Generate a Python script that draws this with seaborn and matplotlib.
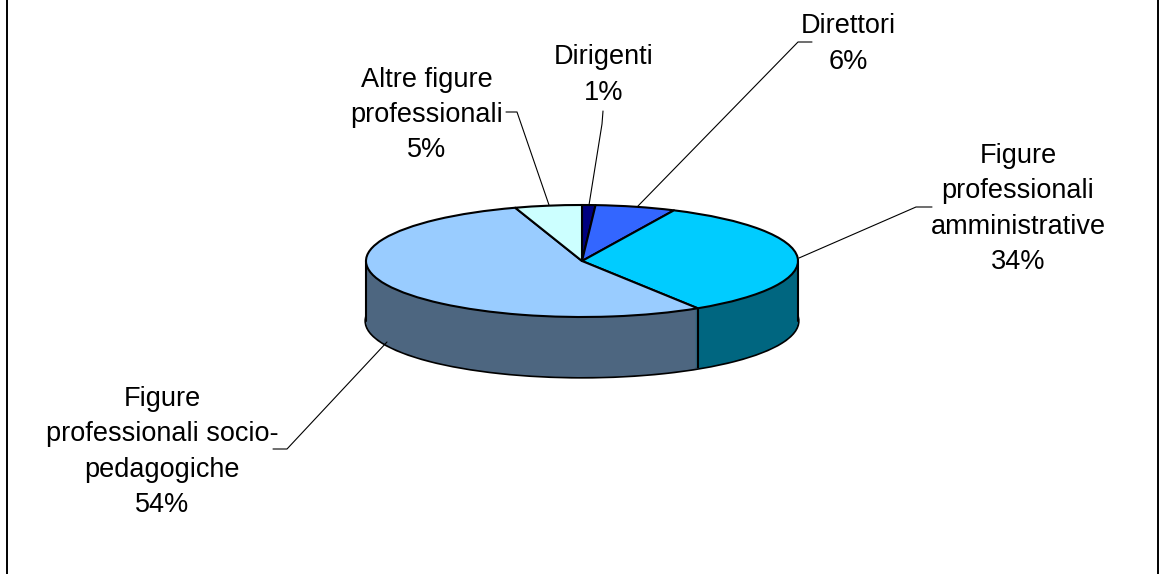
import numpy as np
import matplotlib
matplotlib.use("Agg")
import matplotlib.pyplot as plt
import seaborn as sns

categories = ["Dirigenti", "Direttori", "Figure\nprofessionali\namministrative",
              "Figure\nprofessionali socio-\npedagogiche", "Altre figure\nprofessionali"]
values = [1, 6, 34, 54, 5]
top_hex = ["#000080", "#3366FF", "#00CCFF", "#99CCFF", "#CCFFFF"]

sns.set_theme(style="white")
plt.rcParams["font.family"] = ["Liberation Sans", "DejaVu Sans"]

W, H = 1160, 574
cx, cy, rx, ry, depth = 582, 261, 216, 56, 60
palette = sns.color_palette(top_hex)
side = [tuple(c * 0.5 for c in col) for col in palette]

fig = plt.figure(figsize=(W / 100, H / 100), dpi=100, facecolor="white")

# pie axes: one data unit = rx px horizontally, ry px vertically
ax = fig.add_axes([0, 0, 1, 1])
pie_kw = dict(startangle=90, counterclock=False)
dy = depth / ry
# rim of the base, its inner half is covered by the wall stack
ax.pie([1], colors=["none"], center=(0, -dy),
       wedgeprops=dict(linewidth=2.4, edgecolor="black", fill=False, zorder=4), **pie_kw)
for k in range(depth, 0, -1):
    ax.pie(values, colors=side, center=(0, -k / ry),
           wedgeprops=dict(linewidth=0, zorder=5 + (depth - k) * 0.01), **pie_kw)
# vertical edges: outer extremes and the visible slice boundary
frac = np.cumsum(values) / np.sum(values)
front = [a for a in 2 * np.pi * frac if np.pi / 2 < a < 3 * np.pi / 2]
for a in front:
    x, y = np.sin(a), np.cos(a)
    ax.plot([x, x], [y, y - dy], color="black", lw=1.5, zorder=7, solid_capstyle="butt")
for x in (-1, 1):
    ax.plot([x, x], [0, -dy], color="black", lw=1.5, zorder=7)
ax.pie(values, colors=palette,
       wedgeprops=dict(linewidth=1.5, edgecolor="black", zorder=8, joinstyle="round"), **pie_kw)
ax.set_aspect("auto")
ax.set_xlim(-cx / rx, (W - cx) / rx)
ax.set_ylim((cy - H) / ry, cy / ry)
ax.set_axis_off()

# overlay in pixel coordinates for frame, leaders and labels
ov = fig.add_axes([0, 0, 1, 1], facecolor="none")
ov.set_xlim(0, W)
ov.set_ylim(H, 0)
ov.set_axis_off()

for x in (7, 1158):
    ov.plot([x, x], [0, H], color="black", lw=1.4)

leaders = [
    [(603, 111), (602, 124), (589, 205)],
    [(812, 42), (798, 42), (638, 206)],
    [(932, 207), (916, 207), (799, 258)],
    [(273, 449), (287, 449), (387, 342)],
    [(506, 112), (517, 112), (549, 205)],
]
for pts in leaders:
    xs, ys = zip(*pts)
    ov.plot(xs, ys, color="black", lw=0.8, zorder=3)

label_pos = [(604, 75), (848, 44), (1018, 209), (162, 452), (427, 115)]
for name, v, (x, y) in zip(categories, values, label_pos):
    ov.text(x, y, f"{name}\n{v}%", ha="center", va="center", fontsize=19.5,
            color="black", linespacing=1.46, zorder=4)

fig.savefig("out.png", dpi=100, facecolor="white")
